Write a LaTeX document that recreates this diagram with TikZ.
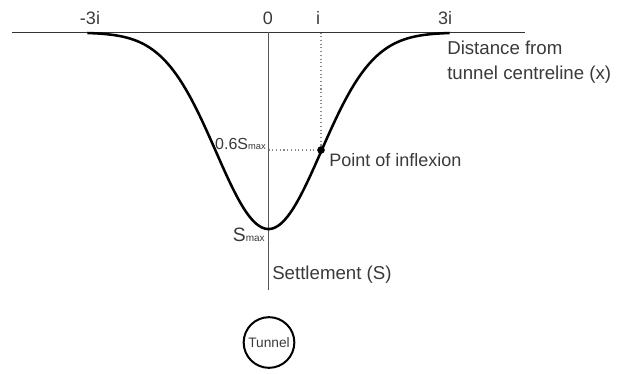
\documentclass[tikz,border=0pt]{standalone}
\usepackage{fontspec}
\setmainfont{Liberation Sans}
\definecolor{txt}{HTML}{3A3A3A}
\definecolor{axisc}{HTML}{555555}
\definecolor{dotc}{HTML}{8A8A8A}
\begin{document}
\begin{tikzpicture}[x=0.75pt,y=-0.75pt,
  lbl/.style={text=txt,inner sep=0pt,font=\fontsize{13.5}{15}\selectfont},
  big/.style={text=txt,inner sep=0pt,font=\fontsize{14}{18.75}\selectfont},
  axisline/.style={draw=axisc,line width=0.8pt},
  topline/.style={draw=black!80,line width=1pt},
  guide/.style={draw=dotc,line width=0.8pt,dotted},
  curve/.style={draw=black,line width=1.9pt,line cap=butt},
  inflex/.style={circle,fill=black,inner sep=0pt,minimum size=5.5pt},
  tunnelc/.style={circle,draw=black,line width=1.5pt,minimum size=38pt,inner sep=0pt,text=txt,font=\fontsize{10.3}{12}\selectfont}]
\useasboundingbox (0,0) rectangle (624,374);
% axes
\coordinate (L) at (12,32.5);
\coordinate (R) at (525,32.5);
\coordinate (O) at (268.5,32.5);
\coordinate (Ob) at (268.5,290);
\coordinate (Itop) at (321,32.5);
\coordinate (Ax) at (268.5,150);
\node[inflex] (P) at (321,150) {};
\draw[guide] (Itop) -- (P.center);
\draw[guide] (Ax) -- (P.center);
\draw[topline] (L) -- (R);
\draw[axisline] (O) -- (Ob);
% settlement trough
\draw[curve] plot[domain=-3.45:3.45,samples=140,smooth] ({268.5+52.5*\x},{32.5+196.5*exp(-\x*\x/2)});
\node[inflex] at (P) {};
% tick labels
\node[lbl] (tm3) at (90,18) {-3i};
\node[lbl] (t0) at (268,18) {0};
\node[lbl] (ti) at (318,18) {i};
\node[lbl] (t3) at (445,18) {3i};
% axis titles
\node[big,anchor=north west,align=left] (xlab) at (447,41) {Distance from\\tunnel centreline (x)};
\node[big,anchor=west] (slab) at (272,275) {Settlement (S)};
% values
\node[text=txt,inner sep=0pt,anchor=east] (s06) at (266,144) {\fontsize{12}{14}\selectfont 0.6S\fontsize{7}{8}\selectfont max};
\node[text=txt,inner sep=0pt,anchor=east] (smax) at (265,235) {\fontsize{14.5}{16}\selectfont S\fontsize{7.5}{8}\selectfont max};
\node[lbl,anchor=west] (pl) at (329,160) {Point of inflexion};
% tunnel
\node[tunnelc] (tun) at (269,342.5) {Tunnel};
\end{tikzpicture}
\end{document}
